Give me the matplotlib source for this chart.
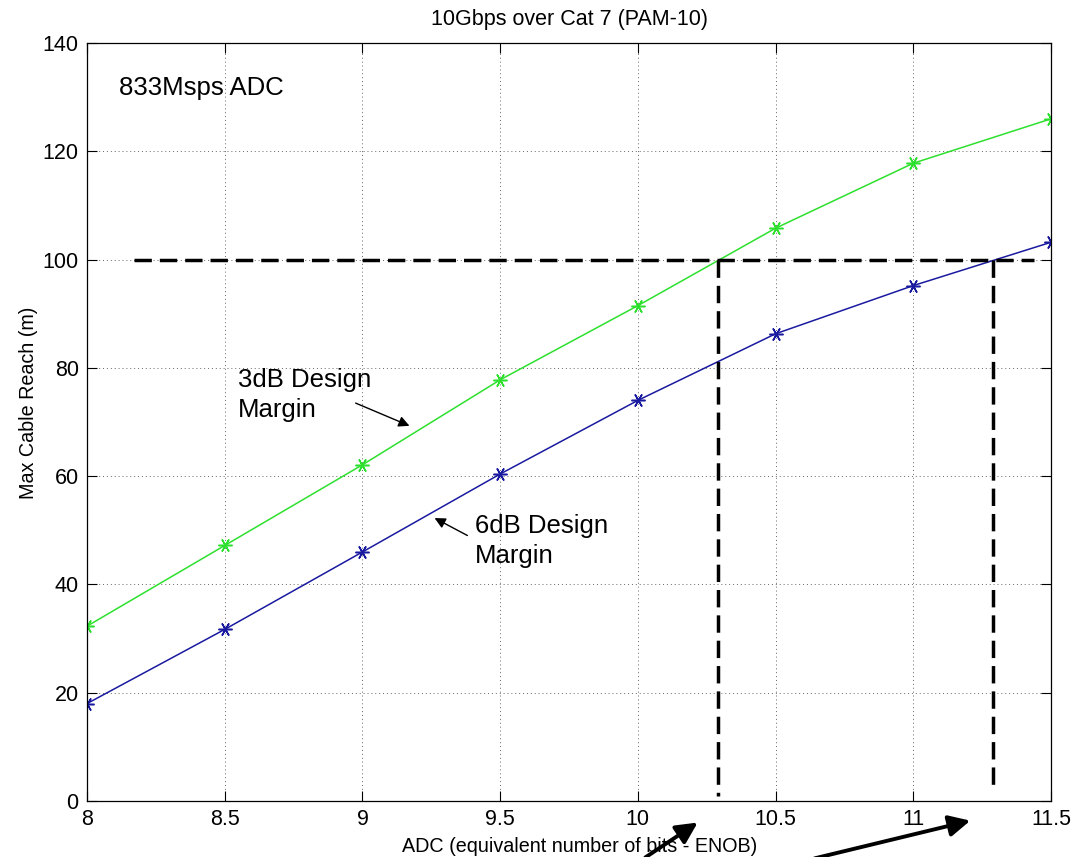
import matplotlib
matplotlib.use("Agg")
import matplotlib.pyplot as plt
import numpy as np

# ENOB values and reach (m)
enob = [8, 8.5, 9, 9.5, 10, 10.5, 11, 11.5]
reach_3db = [32.3, 47.2, 62.1, 77.8, 91.5, 105.8, 117.8, 126.0]
reach_6db = [18.0, 31.7, 46.0, 60.4, 74.0, 86.3, 95.2, 103.2]

target_reach = 100
target_x = [8.17, 11.44]
crossings = [10.29, 11.29]
crossing_bottoms = [1.0, 2.6]

plt.rcParams['font.family'] = ['Liberation Sans', 'DejaVu Sans']

fig = plt.figure(figsize=(10.73, 8.57), dpi=100)
ax = fig.add_axes([0.0811, 0.0653, 0.8984, 0.8845])

asterisk = (6, 2, 90)
ax.plot(enob, reach_3db, color='#2ee02e', marker=asterisk, markersize=10,
        markeredgewidth=1.1, lw=1.1)
ax.plot(enob, reach_6db, color='#1a1aa0', marker=asterisk, markersize=10,
        markeredgewidth=1.1, lw=1.1)

dash = dict(color='black', lw=2.5, dashes=(5, 2.3))
ax.plot(target_x, [target_reach, target_reach], **dash)
for cx, cb in zip(crossings, crossing_bottoms):
    ax.plot([cx, cx], [target_reach, cb], **dash)

ax.set_xlim(8, 11.5)
ax.set_ylim(0, 140)
ax.set_xticks([8, 8.5, 9, 9.5, 10, 10.5, 11, 11.5])
ax.set_xticklabels(['8', '8.5', '9', '9.5', '10', '10.5', '11', '11.5'])
ax.set_yticks(np.arange(0, 141, 20))
ax.grid(True, color='#666666', linestyle=(0, (1, 3)), lw=0.7)
ax.tick_params(direction='in', length=7, width=0.8, top=True, right=True,
               labelsize=15.5, pad=6)
for s in ax.spines.values():
    s.set_linewidth(0.9)

ax.set_title('10Gbps over Cat 7 (PAM-10)', fontsize=15.5, pad=13)
ax.set_xlabel('ADC (equivalent number of bits - ENOB)', fontsize=14.2)
ax.xaxis.set_label_coords(0.511, -0.047)
ax.set_ylabel('Max Cable Reach (m)', fontsize=14.2)
ax.yaxis.set_label_coords(-0.0508, 0.525)

ax.text(8.116, 131.7, '833Msps ADC', fontsize=18.5, va='center', ha='left')

ax.text(8.547, 80.0, '3dB Design\nMargin', fontsize=18.5, va='top', ha='left',
        linespacing=1.3)
ax.annotate('', xy=(9.18, 69.1), xytext=(8.966, 73.7),
            arrowprops=dict(arrowstyle='-|>', color='black', lw=1,
                            mutation_scale=16))

ax.text(9.41, 53.0, '6dB Design\nMargin', fontsize=18.5, va='top', ha='left',
        linespacing=1.3)
ax.annotate('', xy=(9.253, 52.5), xytext=(9.39, 48.8),
            arrowprops=dict(arrowstyle='-|>', color='black', lw=1,
                            mutation_scale=16))

# big arrows pointing at the crossing ENOB values, below the axis
for tail, tip in [((643, -2), (700, 36)), ((812, -2), (973, 37))]:
    fig.add_artist(matplotlib.patches.FancyArrowPatch(
        tail, tip, transform=None, arrowstyle='-|>', color='black', lw=2.8,
        mutation_scale=32))

fig.savefig('out.png', dpi=100)
